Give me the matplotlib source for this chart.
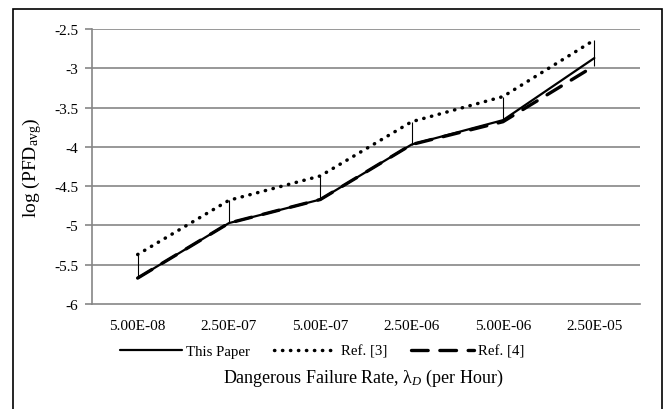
import matplotlib
matplotlib.use("Agg")
import matplotlib.pyplot as plt
import numpy as np
from matplotlib.patches import Rectangle

categories = ["5.00E-08", "2.50E-07", "5.00E-07", "2.50E-06", "5.00E-06", "2.50E-05"]
this_paper = [-5.67, -4.97, -4.67, -3.97, -3.66, -2.87]
ref3 = [-5.37, -4.68, -4.37, -3.68, -3.36, -2.64]
ref4 = [-5.67, -4.97, -4.67, -3.97, -3.68, -2.97]
yticks = [-6, -5.5, -5, -4.5, -4, -3.5, -3, -2.5]

plt.rcParams['font.family'] = ['Liberation Serif', 'DejaVu Serif']
plt.rcParams['mathtext.fontset'] = 'custom'
plt.rcParams['mathtext.rm'] = 'Liberation Serif'
plt.rcParams['mathtext.it'] = 'Liberation Serif:italic'

fig = plt.figure(figsize=(6.64, 4.10), dpi=100)
ax = fig.add_axes([92/664, 1-305/410, (640-92)/664, (305-30)/410])

x = np.arange(len(categories))
grid_c = '#868686'

for yt in yticks[1:]:
    ax.axhline(yt, color=grid_c, lw=1.2, zorder=1)

# high-low lines
hi = np.max([this_paper, ref3, ref4], axis=0)
lo = np.min([this_paper, ref3, ref4], axis=0)
ax.vlines(x, lo, hi, color='black', lw=0.8, zorder=2)

ax.plot(x, this_paper, color='black', lw=1.6, solid_capstyle='round', zorder=4, label='This Paper')
ax.plot(x, ref3, color='black', lw=2.5, linestyle=(0, (0.1, 2.2)), dash_capstyle='round', zorder=3, label='Ref. [3]')
ax.plot(x, ref4, color='black', lw=2.4, linestyle=(0, (5, 3.5)), dash_capstyle='round', zorder=3, label='Ref. [4]')

ax.set_xlim(-0.5, len(categories) - 0.5)
ax.set_ylim(-6, -2.5)
ax.set_yticks(yticks)
ax.set_yticklabels([f"{v:g}" for v in yticks])
ax.set_xticks(x)
ax.set_xticklabels(categories)
ax.tick_params(axis='y', length=5, color=grid_c, width=1.2, labelsize=11, pad=5)
ax.tick_params(axis='x', length=0, labelsize=11, pad=11)

for s in ['top', 'right']:
    ax.spines[s].set_visible(False)
ax.spines['left'].set_color(grid_c)
ax.spines['left'].set_linewidth(1.2)
ax.spines['bottom'].set_color(grid_c)
ax.spines['bottom'].set_linewidth(1.2)

ax.set_ylabel(r"log (PFD$_{\mathregular{avg}}$)", fontsize=14, labelpad=7)

fig.text(0.5 * (92 + 640) / 664 - 0.004, 1 - 378/410, r"Dangerous Failure Rate, $\mathregular{\lambda}_{D}$ (per Hour)",
         ha='center', va='center', fontsize=13)

leg = fig.legend(loc='center', bbox_to_anchor=(322/664, 1 - 352/410), ncol=3, frameon=False,
                 fontsize=10.7, handlelength=4.2, handletextpad=0.3, columnspacing=1.6)

fig.patches.append(Rectangle((13/664, -0.2), (662-13)/664, 1.2 - 10/410, transform=fig.transFigure,
                             fill=False, edgecolor='black', lw=1.2, clip_on=False))

fig.savefig('out.png', dpi=100)
